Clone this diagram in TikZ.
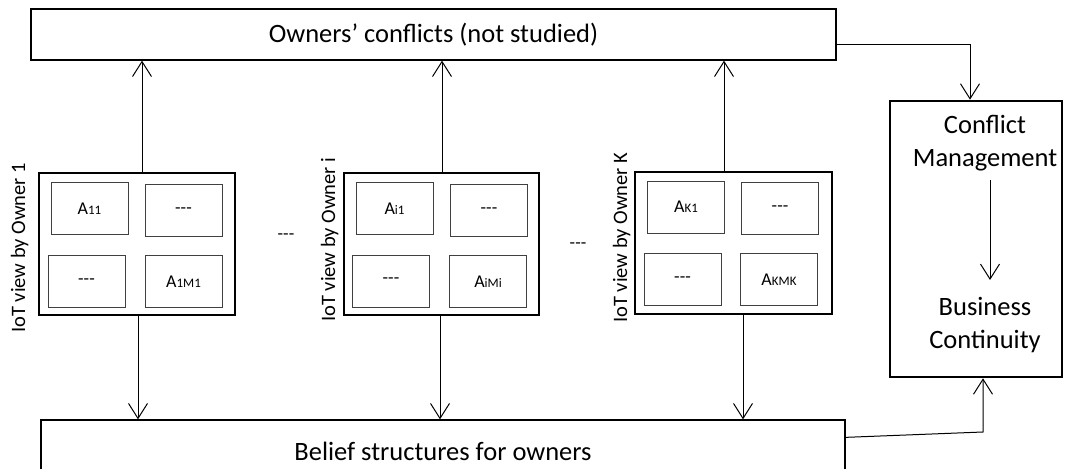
\documentclass[tikz,border=0pt]{standalone}
\usepackage{fontspec}
\setmainfont{Carlito}
\usetikzlibrary{arrows.meta}
\newcommand\smallidx[1]{{\fontsize{13}{13}\selectfont #1}}
\newcommand\hyph{{-}{-}{-}}
\begin{document}
\begin{tikzpicture}[x=1pt,y=-1pt,
  >={Straight Barb[length=15pt,width=19pt]},
  conn/.style={draw=black,line width=1pt},
  bigtext/.style={font=\fontsize{26.5}{33}\selectfont},
  wide/.style={draw=black,line width=1.3pt,inner sep=0pt,bigtext},
  ownerbox/.style={draw=black,line width=2.6pt,minimum width=196pt,minimum height=142pt,inner sep=0pt},
  cell/.style={draw=black!75,line width=1pt,minimum width=77pt,minimum height=52pt,inner sep=0pt,font=\fontsize{18}{20}\selectfont},
  dots/.style={inner sep=0pt,font=\fontsize{18}{20}\selectfont},
  vlabel/.style={rotate=90,inner sep=0pt,anchor=base west,font=\fontsize{20.5}{24}\selectfont},
  cmbox/.style={draw=black,line width=2.6pt,minimum width=172pt,minimum height=276pt,inner sep=0pt},
  plain/.style={inner sep=0pt,align=center,bigtext}
]
\useasboundingbox (0,0) rectangle (1067,468);
\clip (0,0) rectangle (1067,468);

% wide boxes
\node[wide,minimum width=805pt,minimum height=51pt] (top) at (433.5,34.5) {Owners’ conflicts (not studied)};
\node[wide,minimum width=804pt,minimum height=62pt] (bel) at (443,451) {Belief structures for owners};

% conflict management box
\node[cmbox] (cm) at (976,239) {};
\node[plain] (cmt) at (985,143) {Conflict\\Management};
\node[plain] (bc) at (985,325) {Business\\Continuity};

% owner 1
\node[ownerbox] (o1) at (137,244) {};
\node[cell] (a11) at (89.5,208.5) {A\smallidx{11}};
\node[cell] (b11) at (183.5,210.5) {\hyph};
\node[cell] (c11) at (86.5,281.5) {\hyph};
\node[cell] (d11) at (183.5,281.5) {A\smallidx{1M1}};
\node[vlabel] (l1) at (25,333) {IoT view by Owner 1};

% owner i
\node[ownerbox,minimum width=195pt] (oi) at (441.5,244) {};
\node[cell] (ai) at (394.5,208.5) {A\smallidx{i1}};
\node[cell] (bi) at (489,210.5) {\hyph};
\node[cell] (ci) at (391,281) {\hyph};
\node[cell] (di) at (488,281.5) {A\smallidx{iMi}};
\node[vlabel] (li) at (335,322) {IoT view by Owner i};

% owner K
\node[ownerbox,minimum width=197pt] (ok) at (733.5,243) {};
\node[cell] (ak) at (686,207) {A\smallidx{K1}};
\node[cell] (bk) at (780,208.5) {\hyph};
\node[cell] (ck) at (682.5,279.5) {\hyph};
\node[cell] (dk) at (779,279.5) {A\smallidx{KMK}};
\node[vlabel] (lk) at (627,323) {IoT view by Owner K};

% dots between
\node[dots] (d1) at (286,237) {\hyph};
\node[dots] (d2) at (578,246) {\hyph};

% connectors owners -> top
\draw[conn,->] ([xshift=5pt]o1.north) -- ([xshift=5pt]o1.north |- top.south);
\draw[conn,->] ([xshift=0.5pt]oi.north) -- ([xshift=0.5pt]oi.north |- top.south);
\draw[conn,->] ([xshift=-9.5pt]ok.north) -- ([xshift=-9.5pt]ok.north |- top.south);

% connectors owners -> belief
\draw[conn,->] ([xshift=1pt]o1.south) -- ([xshift=1pt]o1.south |- bel.north);
\draw[conn,->] ([xshift=-1.5pt]oi.south) -- ([xshift=-1.5pt]oi.south |- bel.north);
\draw[conn,->] ([xshift=9.5pt]ok.south) -- ([xshift=9.5pt]ok.south |- bel.north);

% top -> conflict management
\draw[conn,->] ([yshift=-10.5pt]top.east) -| ([xshift=-6pt]cm.north);

% belief -> conflict management
\coordinate (bkp) at (983,432);
\draw[conn,->] ([yshift=-18pt]bel.north east) -- (bkp) -- (bkp |- cm.south);

% inner arrow
\coordinate (ia) at (990,180);
\coordinate (ib) at (990,280);
\draw[conn,->] (ia) -- (ib);
\end{tikzpicture}
\end{document}
